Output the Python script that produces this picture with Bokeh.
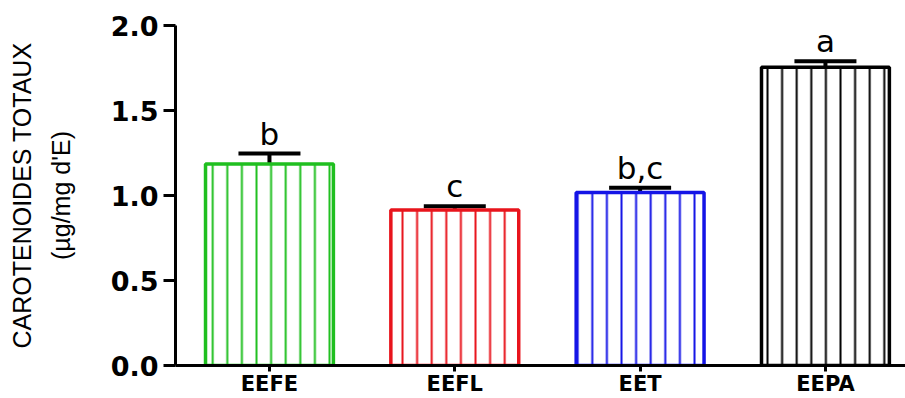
from bokeh.plotting import figure
from bokeh.models import (ColumnDataSource, Range1d, FixedTicker, PrintfTickFormatter,
                          LinearAxis, Whisker, TeeHead)
from bokeh.core.properties import value
from bokeh.embed import file_html
from bokeh.resources import INLINE

categories = ["EEFE", "EEFL", "EET", "EEPA"]
means = [1.185, 0.915, 1.018, 1.755]
errors = [0.062, 0.022, 0.028, 0.035]
letters = ["b", "c", "b,c", "a"]
colors = ["#1FBF1F", "#E8141C", "#1414E6", "#000000"]
y_ticks = [0.0, 0.5, 1.0, 1.5, 2.0]

xs = list(range(1, len(categories) + 1))
upper = [m + e for m, e in zip(means, errors)]
src = ColumnDataSource(dict(x=xs, mean=means, upper=upper, color=colors, letter=letters))

p = figure(width=905, height=398, output_backend="svg", toolbar_location=None,
           x_range=Range1d(0.493, 4.432), y_range=Range1d(0, 2.0),
           min_border_left=175, min_border_top=25, min_border_bottom=33, min_border_right=0)
p.outline_line_color = None
p.xgrid.visible = False
p.ygrid.visible = False
p.background_fill_color = "white"

p.vbar(x="x", top="mean", bottom=0, width=0.69, source=src,
       fill_color="white", line_color="color", line_width=3.5,
       hatch_pattern="|", hatch_color="color", hatch_scale=14.6, hatch_weight=2)

wh = Whisker(source=src, base="x", upper="upper", lower="mean",
             upper_head=TeeHead(size=62, line_width=4, line_color="black"),
             lower_head=None, line_width=4, line_color="black")
p.add_layout(wh)

p.text(x="x", y="upper", text="letter", source=src, text_align="center",
       text_baseline="alphabetic", y_offset=-20, text_font=value("DejaVu Sans"),
       text_font_size="31px", text_color="black")

# x axis
xa = p.xaxis[0]
xa.ticker = FixedTicker(ticks=xs)
xa.major_label_overrides = {x: c for x, c in zip(xs, categories)}
xa.major_label_text_font = "DejaVu Sans"
xa.major_label_text_font_style = "bold"
xa.major_label_text_font_size = "21px"
xa.major_label_text_color = "black"
xa.major_label_standoff = 0
xa.axis_line_width = 3
xa.axis_line_color = "black"
xa.major_tick_line_width = 3
xa.major_tick_out = 6
xa.major_tick_in = 0
xa.minor_tick_line_color = None

# y axis
ya = p.yaxis[0]
ya.ticker = FixedTicker(ticks=y_ticks)
ya.formatter = PrintfTickFormatter(format="%.1f")
ya.major_label_text_font = "DejaVu Sans"
ya.major_label_text_font_style = "bold"
ya.major_label_text_font_size = "27px"
ya.major_label_text_color = "black"
ya.major_label_standoff = 5
ya.axis_line_width = 3
ya.axis_line_color = "black"
ya.major_tick_line_width = 3
ya.major_tick_out = 12
ya.major_tick_in = 0
ya.minor_tick_line_color = None
ya.axis_label = "(µg/mg d'E)"
ya.axis_label_text_font = "Liberation Sans"
ya.axis_label_text_font_style = "normal"
ya.axis_label_text_font_size = "25px"
ya.axis_label_text_color = "black"
ya.axis_label_standoff = 33

ax2 = LinearAxis(axis_label="CAROTENOIDES TOTAUX", axis_line_color=None,
                 major_tick_line_color=None, minor_tick_line_color=None,
                 major_label_text_font_size="0px", major_tick_out=0, major_tick_in=0,
                 minor_tick_out=0, minor_tick_in=0, major_label_standoff=0,
                 axis_label_standoff=8, axis_label_text_font="Liberation Sans",
                 axis_label_text_font_style="normal", axis_label_text_font_size="25px",
                 axis_label_text_color="black", ticker=FixedTicker(ticks=[]))
p.add_layout(ax2, "left")

open("out.html", "w").write(file_html(p, INLINE))
